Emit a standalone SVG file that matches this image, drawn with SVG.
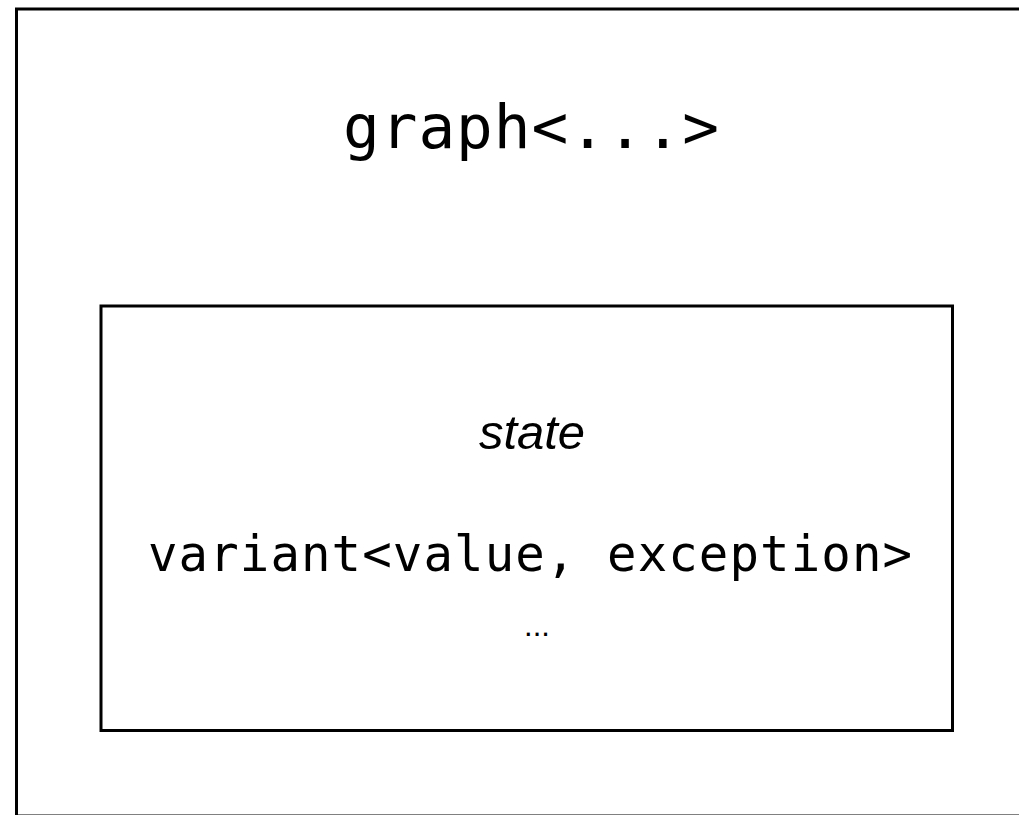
<svg xmlns="http://www.w3.org/2000/svg" width="1019" height="815" viewBox="0 0 1019 815">
<style>
.box{fill:none;stroke:#000;stroke-width:3}
.mono{font-family:"DejaVu Sans Mono","Liberation Mono",monospace;fill:#000}
.sans{font-family:"Liberation Sans",Arial,sans-serif;fill:#000}
</style>
<rect x="0" y="0" width="1019" height="815" fill="#fff"/>
<g id="graph">
<rect class="box" x="16.5" y="9" width="1020" height="807"/>
<text class="mono" x="531" y="148" font-size="61" text-anchor="middle" textLength="376" lengthAdjust="spacing">graph&lt;...&gt;</text>
</g>
<g id="state">
<rect class="box" x="101" y="306" width="851.5" height="424.5"/>
<text class="sans" x="532" y="449" font-size="49" font-style="italic" text-anchor="middle">state</text>
<text class="mono" x="530" y="571" font-size="49" text-anchor="middle" textLength="764" lengthAdjust="spacing">variant&lt;value, exception&gt;</text>
<text class="sans" x="537" y="636" font-size="31" text-anchor="middle">...</text>
</g>
<g id="connectors"/>
</svg>
